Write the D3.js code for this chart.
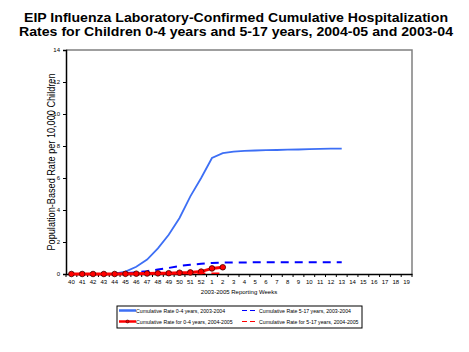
<!DOCTYPE html>
<html lang="en">
<head>
<meta charset="UTF-8">
<title>EIP Influenza Cumulative Hospitalization Rates</title>
<script src="https://d3js.org/d3.v7.min.js"></script>
<style>
    body { margin: 0; background: #fff; }
    svg { font-family: Arial, "Liberation Sans", sans-serif; }
    .title { font-size: 13px; font-weight: bold; text-anchor: middle; }
    .tick text { font-size: 6px; }
    .axis-title { font-size: 6px; text-anchor: middle; }
    .legend-text { font-size: 5.2px; }
</style>
</head>
<body>
<script>
    var w = 469;
    var h = 352;
    var margin = {top: 50, right: 57, bottom: 78, left: 66};

    var weeks = ["40","41","42","43","44","45","46","47","48","49","50","51","52",
                 "1","2","3","4","5","6","7","8","9","10","11","12","13","14","15","16","17","18","19"];
    var yTicks = [0, 2, 4, 6, 8, 10, 12, 14];

    // 2003-2004 season, weeks 40 to 13
    var rate04_0304 = [0, 0, 0, 0, 0.02, 0.15, 0.45, 0.9, 1.6, 2.45, 3.5, 4.85, 6.0,
                       7.25, 7.55, 7.65, 7.7, 7.72, 7.74, 7.75, 7.77, 7.78, 7.8, 7.82, 7.83, 7.83];
    var rate517_0304 = [0, 0, 0, 0, 0.02, 0.05, 0.1, 0.18, 0.28, 0.38, 0.5, 0.58, 0.64,
                        0.69, 0.71, 0.72, 0.72, 0.73, 0.73, 0.73, 0.73, 0.73, 0.73, 0.73, 0.73, 0.73];
    // 2004-2005 season, weeks 40 to 2
    var rate04_0405 = [0, 0, 0, 0, 0, 0.01, 0.02, 0.03, 0.04, 0.05, 0.08, 0.1, 0.15, 0.35, 0.42];
    var rate517_0405 = [0, 0, 0, 0, 0, 0, 0, 0.01, 0.01, 0.02, 0.02, 0.03, 0.04, 0.05, 0.05];

    var titleLines = ["EIP Influenza Laboratory-Confirmed Cumulative Hospitalization",
                      "Rates for Children 0-4 years and 5-17 years, 2004-05 and 2003-04"];
    var titleWidths = [424, 434];

    var series = [
        {name: "Cumulative Rate 0-4 years, 2003-2004", values: rate04_0304, color: "#3d6ff5", width: 1.8, dash: null, marker: false},
        {name: "Cumulative Rate 5-17 years, 2003-2004", values: rate517_0304, color: "#0000ff", width: 2, dash: "8,6", marker: false},
        {name: "Cumulative Rate for 0-4 years, 2004-2005", values: rate04_0405, color: "#ff0000", width: 3, dash: null, marker: true},
        {name: "Cumulative Rate for 5-17 years, 2004-2005", values: rate517_0405, color: "#ff0000", width: 1.5, dash: "8,6", marker: false}
    ];

    var svg = d3.select("body").append("svg")
        .attr("width", w)
        .attr("height", h);

    svg.selectAll(".title")
        .data(titleLines)
        .enter()
        .append("text")
        .attr("class", "title")
        .attr("x", 236)
        .attr("y", function (d, i) { return 22 + i * 13.5; })
        .attr("textLength", function (d, i) { return titleWidths[i]; })
        .attr("lengthAdjust", "spacingAndGlyphs")
        .text(function (d) { return d; });

    var xScale = d3.scaleBand()
        .domain(weeks)
        .range([margin.left, w - margin.right]);

    var yScale = d3.scaleLinear()
        .domain([0, 14])
        .range([h - margin.bottom, margin.top]);

    // grey frame on top and right
    svg.append("path")
        .attr("d", "M" + margin.left + "," + margin.top + "H" + (w - margin.right) + "V" + (h - margin.bottom))
        .attr("fill", "none")
        .attr("stroke", "#808080")
        .attr("stroke-width", 1.5);

    var yAxis = d3.axisLeft(yScale).tickValues(yTicks).tickSize(3).tickPadding(3);
    svg.append("g")
        .attr("transform", "translate(" + margin.left + ",0)")
        .call(yAxis)
        .call(function (g) { g.select(".domain").attr("stroke-width", 1.5); });

    var xAxis = d3.axisBottom(xScale).tickSize(0).tickPadding(6);
    svg.append("g")
        .attr("transform", "translate(0," + (h - margin.bottom) + ")")
        .call(xAxis)
        .call(function (g) { g.select(".domain").attr("stroke-width", 1.5); });

    // ticks at band boundaries
    var bounds = weeks.map(function (d) { return xScale(d); }).concat([xScale.range()[1]]);
    svg.append("g")
        .selectAll("line")
        .data(bounds)
        .enter()
        .append("line")
        .attr("x1", function (d) { return d; })
        .attr("x2", function (d) { return d; })
        .attr("y1", h - margin.bottom)
        .attr("y2", h - margin.bottom + 3)
        .attr("stroke", "#000");

    svg.append("text")
        .attr("class", "axis-title")
        .attr("x", (margin.left + w - margin.right) / 2)
        .attr("y", 294)
        .text("2003-2005 Reporting Weeks");

    svg.append("text")
        .attr("class", "axis-title")
        .attr("transform", "translate(55," + (margin.top + h - margin.bottom) / 2 + ") rotate(-90)")
        .style("font-size", "10.5px")
        .attr("textLength", 177)
        .attr("lengthAdjust", "spacingAndGlyphs")
        .text("Population-Based Rate per 10,000 Children");

    var line = d3.line()
        .x(function (d, i) { return xScale(weeks[i]) + xScale.bandwidth() / 2; })
        .y(function (d) { return yScale(d); });

    series.forEach(function (s) {
        svg.append("path")
            .datum(s.values)
            .attr("d", line)
            .attr("fill", "none")
            .attr("stroke", s.color)
            .attr("stroke-width", s.width)
            .attr("stroke-dasharray", s.dash);
        if (s.marker) {
            svg.append("g")
                .selectAll("circle")
                .data(s.values)
                .enter()
                .append("circle")
                .attr("cx", function (d, i) { return xScale(weeks[i]) + xScale.bandwidth() / 2; })
                .attr("cy", function (d) { return yScale(d); })
                .attr("r", 2.8)
                .attr("fill", "#ff0000")
                .attr("stroke", "#400000")
                .attr("stroke-width", 0.8);
        }
    });

    // legend
    var legend = svg.append("g");
    legend.append("rect")
        .attr("x", 117)
        .attr("y", 306)
        .attr("width", 245)
        .attr("height", 22)
        .attr("fill", "none")
        .attr("stroke", "#000")
        .attr("stroke-width", 1);

    var legendPos = [
        {x: 119, tx: 136, y: 310.5, len: 17},
        {x: 242, tx: 259, y: 310.5, len: 13},
        {x: 119, tx: 136, y: 321.5, len: 17},
        {x: 242, tx: 259, y: 321.5, len: 13}
    ];

    series.forEach(function (s, i) {
        var p = legendPos[i];
        legend.append("line")
            .attr("x1", p.x)
            .attr("x2", p.x + p.len)
            .attr("y1", p.y)
            .attr("y2", p.y)
            .attr("stroke", s.color)
            .attr("stroke-width", s.dash ? 1.2 : 2.5)
            .attr("stroke-dasharray", s.dash ? "5,3" : null);
        if (s.marker) {
            legend.append("circle")
                .attr("cx", p.x + p.len / 2)
                .attr("cy", p.y)
                .attr("r", 1.5)
                .attr("fill", "#ff0000")
                .attr("stroke", "#400000")
                .attr("stroke-width", 0.6);
        }
        legend.append("text")
            .attr("class", "legend-text")
            .attr("x", p.tx)
            .attr("y", p.y + 2)
            .text(s.name);
    });
</script>
</body>
</html>
